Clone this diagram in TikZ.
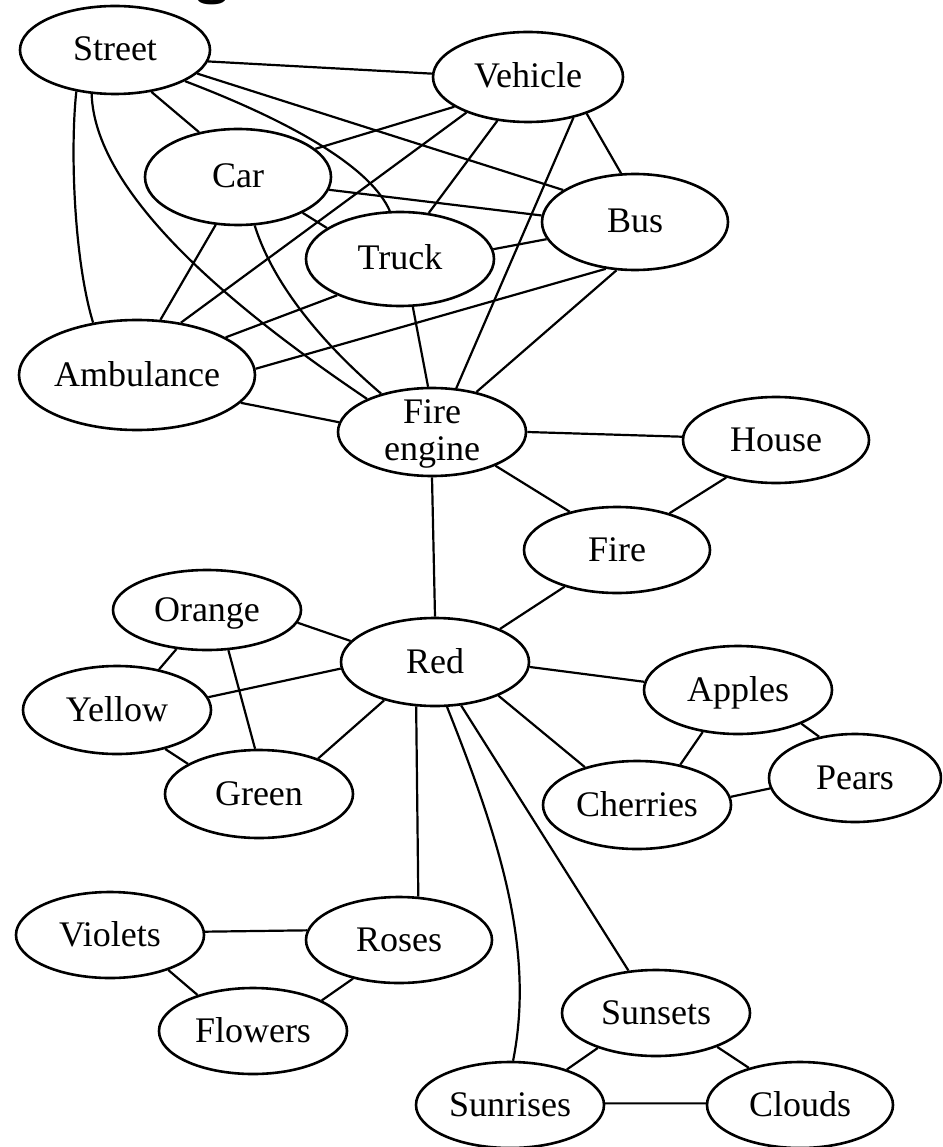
\documentclass[tikz,border=0pt]{standalone}
\usepackage{fontspec}
\setmainfont{Liberation Serif}
\usetikzlibrary{shapes.geometric}
\newcommand{\lbl}[1]{\makebox[0pt]{\raisebox{-11pt}[0pt][0pt]{#1}}}
\newcommand{\lbltwo}[2]{\makebox[0pt]{\raisebox{-28pt}[0pt][0pt]{\begin{tabular}[b]{@{}c@{}}#1\\#2\end{tabular}}}}
\tikzset{
  el/.style={ellipse, draw, line width=2.6pt, inner sep=0pt, minimum width=188pt, minimum height=86pt, font=\fontsize{36}{37}\selectfont},
  ed/.style={line width=2.2pt},
}
\begin{document}
\begin{tikzpicture}[x=1pt,y=-1pt]
\useasboundingbox (0,0) rectangle (942,1147);
\clip (0,0) rectangle (942,1147);
\fill[white] (0,0) rectangle (942,1147);
\node[font=\fontsize{60}{60}\sffamily\bfseries, anchor=base, inner sep=0pt] (title) at (212,-7) {g};
% nodes
\node[el, minimum width=190pt, minimum height=88pt] (street) at (115,50) {\lbl{Street}};
\node[el, minimum width=190pt, minimum height=90pt] (vehicle) at (528,77) {\lbl{Vehicle}};
\node[el, minimum width=186pt, minimum height=96pt] (car) at (238,177) {\lbl{Car}};
\node[el, minimum width=186pt, minimum height=96pt] (bus) at (635,222) {\lbl{Bus}};
\node[el, minimum width=188pt, minimum height=94pt] (truck) at (400,259) {\lbl{Truck}};
\node[el, minimum width=236pt, minimum height=110pt] (amb) at (137,375) {\lbl{Ambulance}};
\node[el, minimum height=88pt] (fe) at (432,432) {\lbltwo{Fire}{engine}};
\node[el, minimum width=186pt] (house) at (776,440) {\lbl{House}};
\node[el, minimum width=186pt] (fire) at (617,550) {\lbl{Fire}};
\node[el, minimum height=80pt] (orange) at (207,610) {\lbl{Orange}};
\node[el, minimum height=88pt] (red) at (435,662) {\lbl{Red}};
\node[el, minimum height=88pt] (yellow) at (117,710) {\lbl{Yellow}};
\node[el, minimum height=88pt] (green) at (259,794) {\lbl{Green}};
\node[el, minimum height=88pt] (apples) at (738,690) {\lbl{Apples}};
\node[el, minimum width=172pt, minimum height=88pt] (pears) at (855,778) {\lbl{Pears}};
\node[el, minimum height=88pt] (cherries) at (637,805) {\lbl{Cherries}};
\node[el] (violets) at (110,935) {\lbl{Violets}};
\node[el, minimum width=186pt] (roses) at (399,940) {\lbl{Roses}};
\node[el] (flowers) at (253,1031) {\lbl{Flowers}};
\node[el] (sunsets) at (656,1013) {\lbl{Sunsets}};
\node[el] (sunrises) at (510,1105) {\lbl{Sunrises}};
\node[el, minimum width=186pt] (clouds) at (800,1105) {\lbl{Clouds}};
% edges
\draw[ed] (street.-7) -- (vehicle.178);
\draw[ed] (street.-49) -- (car.131);
\draw[ed] (street.-24) .. controls (300,125) and (372,170) .. (truck.102);
\draw[ed] (street.-16) -- (bus.156);
\draw[ed] (street.-133) .. controls (70,150) and (74,260) .. (amb.130);
\draw[ed] (street.-118) .. controls (95,200) and (250,320) .. (fe.153);
\draw[ed] (vehicle.-158) -- (car.20);
\draw[ed] (vehicle.-150) -- (amb.50);
\draw[ed] (vehicle.-125) -- (truck.58);
\draw[ed] (vehicle.-42) -- (fe.61);
\draw[ed] (vehicle.-32) -- (bus.106);
\draw[ed] (car.-8) -- (bus.176);
\draw[ed] (car.-29) -- (truck.157);
\draw[ed] (car.-115) -- (amb.67);
\draw[ed] (car.-71) .. controls (275,290) and (330,350) .. (fe.143);
\draw[ed] (truck.6) -- (bus.-169);
\draw[ed] (truck.-150) -- (amb.23);
\draw[ed] (truck.-75) -- (fe.95);
\draw[ed] (bus.-122) -- (amb.3);
\draw[ed] (bus.-111) -- (fe.42);
\draw[ed] (amb.-15) -- (fe.174);
\draw[ed] (fe.0) -- (house.178);
\draw[ed] (fe.-28) -- (fire.141);
\draw[ed] (house.-143) -- (fire.35);
\draw[ed] (fe.-90) -- (red.90);
\draw[ed] (fire.-145) -- (red.27);
\draw[ed] (orange.-8) -- (red.166);
\draw[ed] (orange.-128) -- (yellow.44);
\draw[ed] (orange.-62) -- (green.95);
\draw[ed] (yellow.8) -- (red.-176);
\draw[ed] (yellow.-39) -- (green.157);
\draw[ed] (green.31) -- (red.-143);
\draw[ed] (red.-3) -- (apples.175);
\draw[ed] (red.-28) -- (cherries.144);
\draw[ed] (apples.-130) -- (cherries.43);
\draw[ed] (apples.-28) -- (pears.131);
\draw[ed] (cherries.5) -- (pears.-173);
\draw[ed] (red.-113) -- (roses.66);
\draw[ed] (red.-75) .. controls (500,840) and (535,950) .. (sunrises.86);
\draw[ed] (red.-59) -- (sunsets.123);
\draw[ed] (sunsets.-149) -- (sunrises.32);
\draw[ed] (sunsets.-29) -- (clouds.144);
\draw[ed] (sunrises.1) -- (clouds.179);
\draw[ed] (violets.2) -- (roses.174);
\draw[ed] (violets.-31) -- (flowers.147);
\draw[ed] (roses.-140) -- (flowers.24);
\end{tikzpicture}
\end{document}
